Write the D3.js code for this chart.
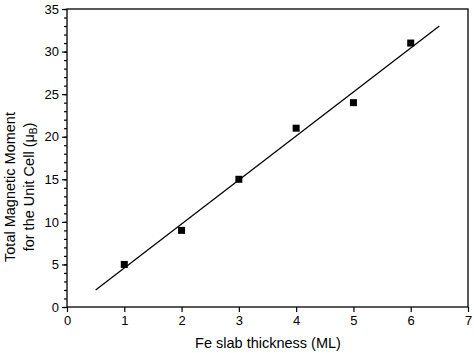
<!DOCTYPE html>
<html><head><meta charset="utf-8">
<script src="https://cdn.jsdelivr.net/npm/d3@7"></script>
<style>body{margin:0;background:#fff}svg{display:block}text{font-family:"Liberation Sans",Arial,sans-serif;fill:#000}</style>
</head><body>
<svg id="c" width="474" height="353"></svg>
<script>
const thickness = [1, 2, 3, 4, 5, 6];
const moment = [5, 9, 15, 21, 24, 31];
const fitX = [0.5, 6.5];
const fitY = [1.99, 33.01];
const xTicks = [0, 1, 2, 3, 4, 5, 6, 7];
const yTicks = [0, 5, 10, 15, 20, 25, 30, 35];
const yMinor = d3.range(0, 36, 1);

const svg = d3.select("#c");
const L = 67, R = 468, T = 9, B = 307;
const x = d3.scaleLinear().domain([0, 7]).range([L, R]);
const y = d3.scaleLinear().domain([0, 35]).range([B, T]);
const fmt = d3.format("d");

// frame
svg.append("rect").attr("x", L).attr("y", T).attr("width", R - L).attr("height", B - T)
  .attr("fill", "none").attr("stroke", "#000").attr("stroke-width", 1.3);

// y minor ticks
svg.append("g").attr("transform", `translate(${L},0)`)
  .call(d3.axisLeft(y).tickValues(yMinor).tickSize(3).tickFormat(""))
  .call(g => g.select(".domain").remove())
  .selectAll("line").attr("stroke-width", 1.2);
// y major
const ya = svg.append("g").attr("transform", `translate(${L},0)`)
  .call(d3.axisLeft(y).tickValues(yTicks).tickSize(5).tickPadding(3).tickFormat(fmt))
  .call(g => g.select(".domain").remove());
ya.selectAll("line").attr("stroke-width", 1.2);
ya.selectAll("text").attr("font-size", 13).style("font-family", "Liberation Sans, Arial, sans-serif");
// x major
const xa = svg.append("g").attr("transform", `translate(0,${B})`)
  .call(d3.axisBottom(x).tickValues(xTicks).tickSize(5).tickPadding(4).tickFormat(fmt))
  .call(g => g.select(".domain").remove());
xa.selectAll("line").attr("stroke-width", 1.2);
xa.selectAll("text").attr("font-size", 13).style("font-family", "Liberation Sans, Arial, sans-serif");

// fit line
svg.append("path").datum(fitX.map((v, i) => [v, fitY[i]]))
  .attr("d", d3.line().x(d => x(d[0])).y(d => y(d[1])))
  .attr("fill", "none").attr("stroke", "#000").attr("stroke-width", 1.3);

// points
const s = 7;
svg.append("g").selectAll("rect").data(thickness.map((v, i) => [v, moment[i]])).join("rect")
  .attr("x", d => x(d[0]) - s / 2).attr("y", d => y(d[1]) - s / 2)
  .attr("width", s).attr("height", s).attr("fill", "#000");

// x title
svg.append("text").attr("x", 268).attr("y", 348).attr("text-anchor", "middle")
  .attr("font-size", 14.5).text("Fe slab thickness (ML)");

// y title
const yt = svg.append("text").attr("transform", "translate(0,187) rotate(-90)")
  .attr("text-anchor", "middle").attr("font-size", 14.5);
yt.append("tspan").attr("x", 0).attr("y", 15).text("Total Magnetic Moment");
const t2 = yt.append("tspan").attr("x", 0).attr("y", 34);
t2.append("tspan").text("for the Unit Cell (μ");
t2.append("tspan").attr("font-size", 10).attr("dy", 3).text("B");
t2.append("tspan").attr("dy", -3).text(")");
</script>
</body></html>
